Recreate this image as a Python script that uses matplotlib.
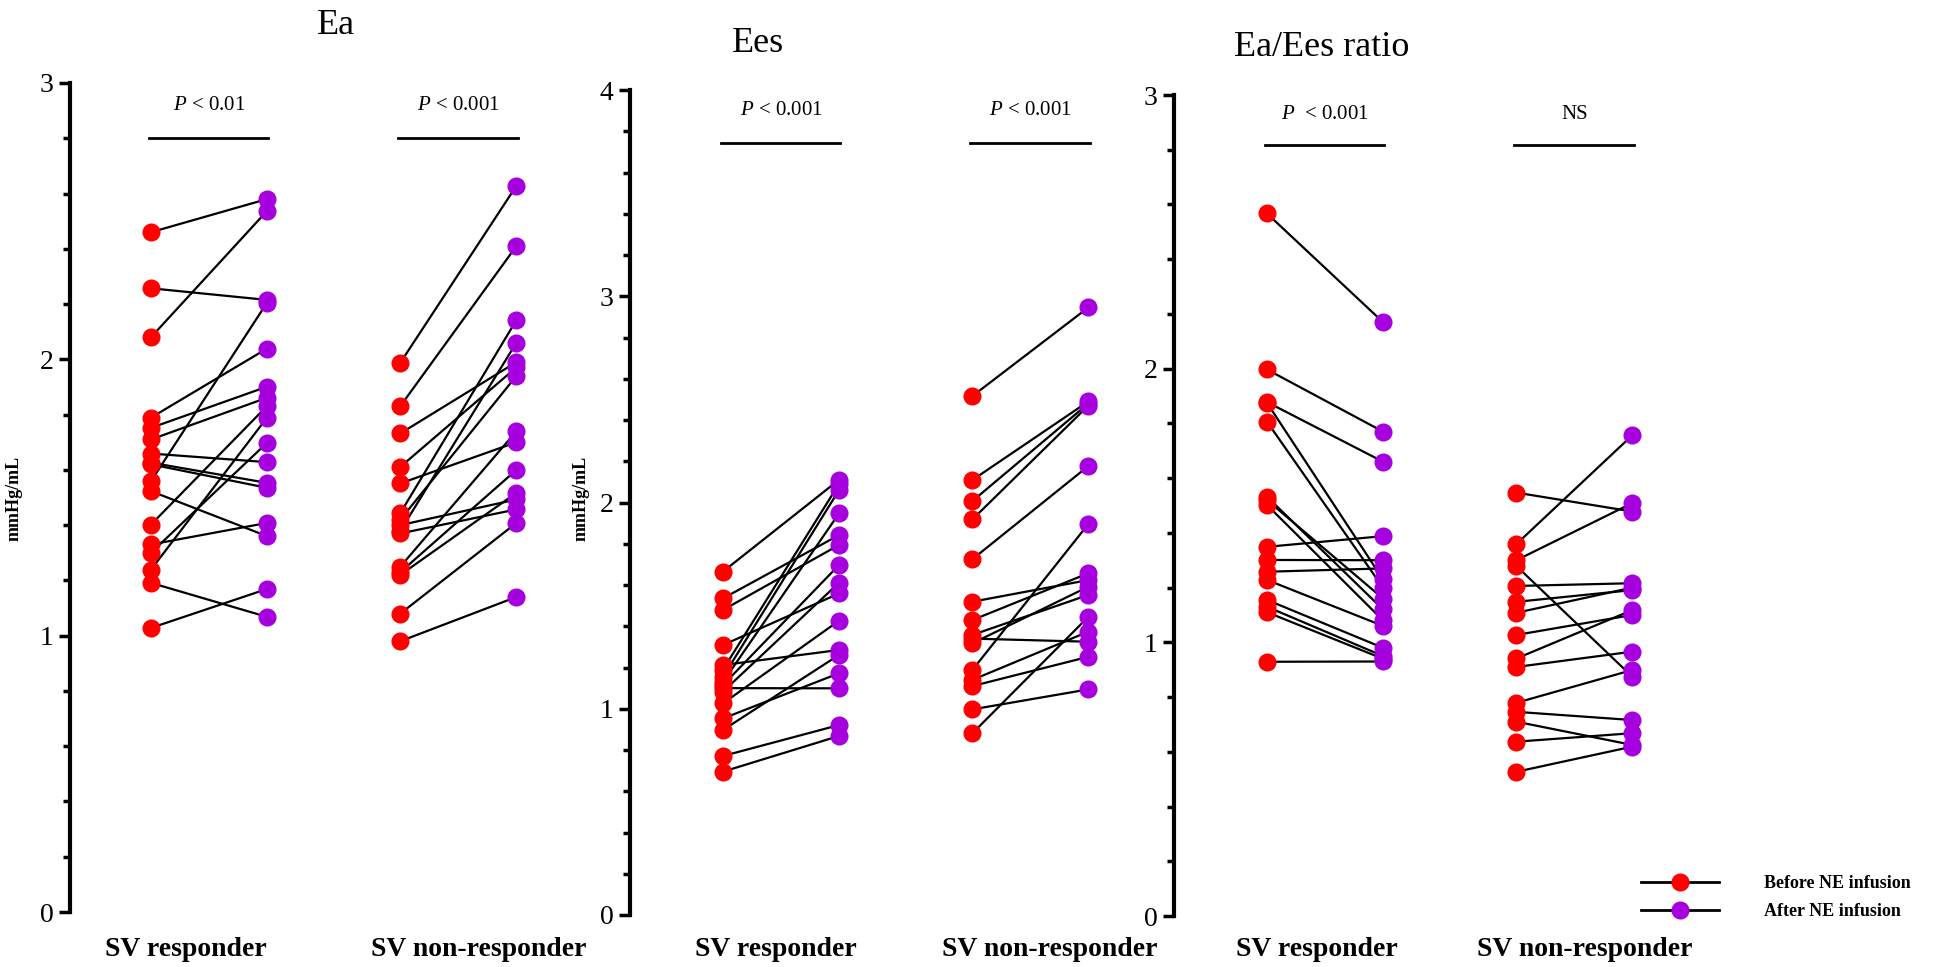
import matplotlib
matplotlib.use('Agg')
import matplotlib.pyplot as plt
from matplotlib.lines import Line2D
from matplotlib.ticker import MultipleLocator

plt.rcParams['font.family'] = 'Liberation Serif'
plt.rcParams['mathtext.fontset'] = 'custom'
plt.rcParams['mathtext.rm'] = 'Liberation Serif'
plt.rcParams['mathtext.it'] = 'Liberation Serif:italic'

# ---- data ----
ea_resp_before = [2.46, 2.257, 2.08, 1.789, 1.752, 1.71, 1.659, 1.626, 1.62, 1.559, 1.523, 1.402, 1.33, 1.30, 1.239, 1.191, 1.028]
ea_resp_after = [2.58, 2.215, 2.537, 2.039, 1.901, 1.861, 1.628, 1.553, 1.535, 2.205, 1.36, 1.831, 1.408, 1.698, 1.789, 1.068, 1.169]
ea_non_before = [1.988, 1.831, 1.732, 1.611, 1.551, 1.444, 1.42, 1.40, 1.38, 1.37, 1.25, 1.23, 1.22, 1.08, 0.98]
ea_non_after = [2.628, 2.41, 1.99, 1.971, 1.70, 2.142, 1.94, 1.493, 2.06, 1.457, 1.74, 1.60, 1.517, 1.408, 1.14]

ees_resp_before = [1.665, 1.535, 1.479, 1.309, 1.212, 1.19, 1.155, 1.13, 1.115, 1.10, 1.083, 1.026, 0.953, 0.897, 0.771, 0.695]
ees_resp_after = [2.11, 1.842, 1.794, 1.559, 1.285, 2.09, 2.06, 1.947, 1.697, 1.099, 1.611, 1.427, 1.172, 1.261, 0.921, 0.868]
ees_non_before = [2.516, 2.109, 2.007, 1.918, 1.725, 1.519, 1.43, 1.358, 1.34, 1.317, 1.188, 1.14, 1.11, 0.997, 0.881]
ees_non_after = [2.946, 2.49, 2.48, 2.47, 2.177, 1.624, 1.657, 1.552, 1.325, 1.592, 1.896, 1.374, 1.252, 1.094, 1.446]

ratio_resp_before = [2.567, 1.997, 1.878, 1.875, 1.806, 1.532, 1.52, 1.502, 1.349, 1.301, 1.258, 1.228, 1.155, 1.13, 1.11, 0.929]
ratio_resp_after = [2.17, 1.77, 1.66, 1.23, 1.20, 1.12, 1.16, 1.08, 1.388, 1.30, 1.27, 1.06, 0.98, 0.95, 0.94, 0.93]
ratio_non_before = [1.547, 1.359, 1.30, 1.279, 1.206, 1.148, 1.108, 1.027, 0.941, 0.91, 0.779, 0.746, 0.710, 0.637, 0.527]
ratio_non_after = [1.478, 1.757, 1.509, 0.874, 1.216, 1.191, 1.20, 1.10, 1.118, 0.966, 0.899, 0.716, 0.625, 0.668, 0.619]

titles = ['Ea', 'Ees', 'Ea/Ees ratio']
group_labels = ['SV responder', 'SV non-responder']
p_labels = [[r'$\mathit{P}$ < 0.01', r'$\mathit{P}$ < 0.001'],
            [r'$\mathit{P}$ < 0.001', r'$\mathit{P}$ < 0.001'],
            [r'$\mathit{P}$  < 0.001', 'NS']]
legend_labels = ['Before NE infusion', 'After NE infusion']

RED = '#FF0000'
PURPLE = '#A600DE'
W, H = 1946, 967
PX = 116.0  # pixels per x unit
xpos = [0, 1, 2.15, 3.15]

fig = plt.figure(figsize=(W / 100, H / 100), dpi=100)


def make_axes(axis_px, first_px, top_px, bottom_px, ymax, right_units=3.6):
    xmin = (axis_px - first_px) / PX
    right_px = first_px + right_units * PX
    ax = fig.add_axes([axis_px / W, (H - bottom_px) / H,
                       (right_px - axis_px) / W, (bottom_px - top_px) / H])
    ax.set_xlim(xmin, right_units)
    ax.set_ylim(0, ymax)
    return ax


def panel(ax, data, pbar, ptext, labels, title, title_xy, glabel_px, ylabel_px=None):
    rb, ra, nb, na = data
    for b, a in zip(rb, ra):
        ax.plot([xpos[0], xpos[1]], [b, a], color='black', lw=1.6, zorder=2, clip_on=False)
    for b, a in zip(nb, na):
        ax.plot([xpos[2], xpos[3]], [b, a], color='black', lw=1.6, zorder=2, clip_on=False)
    ax.plot([xpos[0]] * len(rb), rb, 'o', color=RED, ms=12, zorder=3, clip_on=False)
    ax.plot([xpos[1]] * len(ra), ra, 'o', color=PURPLE, ms=12, zorder=3, clip_on=False)
    ax.plot([xpos[2]] * len(nb), nb, 'o', color=RED, ms=12, zorder=3, clip_on=False)
    ax.plot([xpos[3]] * len(na), na, 'o', color=PURPLE, ms=12, zorder=3, clip_on=False)

    # significance bars
    ax.plot([xpos[0] - 0.02, xpos[1] + 0.01], [pbar, pbar], color='black', lw=2)
    ax.plot([xpos[2] - 0.02, xpos[3] + 0.01], [pbar, pbar], color='black', lw=2)
    ax.text((xpos[0] + xpos[1]) / 2, ptext, labels[0], ha='center', va='center', fontsize=15)
    ax.text((xpos[2] + xpos[3]) / 2, ptext, labels[1], ha='center', va='center', fontsize=15)

    for s in ['top', 'right', 'bottom']:
        ax.spines[s].set_visible(False)
    ax.spines['left'].set_linewidth(3)
    ax.set_xticks([])
    ax.yaxis.set_major_locator(MultipleLocator(1))
    ax.yaxis.set_minor_locator(MultipleLocator(0.2))
    ax.tick_params(axis='y', which='major', length=8, width=2.5, labelsize=20, pad=4)
    ax.tick_params(axis='y', which='minor', length=5, width=2.5)

    fig.text(title_xy[0] / W, 1 - title_xy[1] / H, title, ha='center', va='center', fontsize=26)
    for lab, cx in zip(group_labels, glabel_px):
        fig.text(cx / W, 1 - 950 / H, lab, ha='center', va='center',
                 fontsize=20, fontweight='bold')
    if ylabel_px is not None:
        fig.text(ylabel_px / W, 1 - 498 / H, 'mmHg/mL', rotation=90,
                 ha='center', va='center', fontsize=13, fontweight='bold')


ax1 = make_axes(70, 151, 83, 912, 3)
panel(ax1, (ea_resp_before, ea_resp_after, ea_non_before, ea_non_after),
      2.8, 2.92, p_labels[0], titles[0], (336, 25), [186, 479], ylabel_px=14)

ax2 = make_axes(630, 723, 90, 915, 4)
panel(ax2, (ees_resp_before, ees_resp_after, ees_non_before, ees_non_after),
      3.743, 3.90, p_labels[1], titles[1], (758, 43), [776, 1050], ylabel_px=581)

ax3 = make_axes(1174, 1267, 95, 916, 3)
panel(ax3, (ratio_resp_before, ratio_resp_after, ratio_non_before, ratio_non_after),
      2.817, 2.93, p_labels[2], titles[2], (1322, 47), [1317, 1585])

handles = [Line2D([0], [0], color='black', lw=2, marker='o', ms=12, markerfacecolor=RED, markeredgecolor=RED),
           Line2D([0], [0], color='black', lw=2, marker='o', ms=12, markerfacecolor=PURPLE, markeredgecolor=PURPLE)]
leg = fig.legend(handles, legend_labels, loc='upper left', bbox_to_anchor=(1641 / W, 1 - 875 / H),
                 frameon=False, fontsize=13, handlelength=4.3, handletextpad=2.5,
                 labelspacing=0.6, borderpad=0, borderaxespad=0)
for t in leg.get_texts():
    t.set_fontweight('bold')

fig.savefig('out.png', dpi=100)
